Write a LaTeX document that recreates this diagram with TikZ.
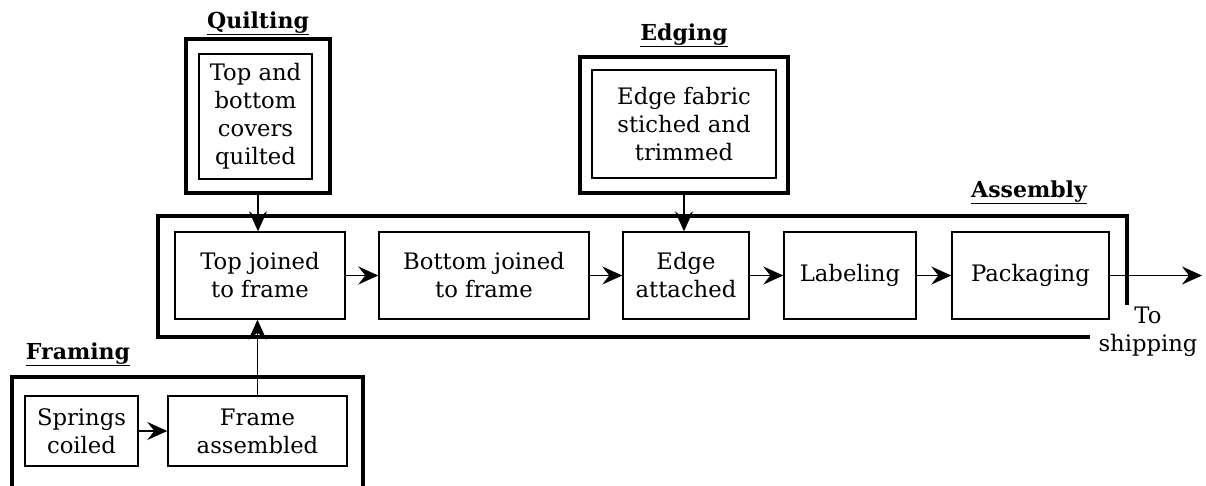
\documentclass[tikz,border=0pt]{standalone}
\usepackage{fontspec}
\setmainfont{DejaVu Serif}
\usetikzlibrary{arrows.meta}
\begin{document}
\begin{tikzpicture}[x=1pt,y=-1pt,
  every node/.style={font=\fontsize{22.7}{28}\selectfont, inner sep=0pt, align=center},
  stepbox/.style={draw, line width=1.4pt, minimum height=87pt},
  thinbox/.style={draw, line width=1.4pt},
  outerbox/.style={draw, line width=4pt},
  group/.style={line width=4pt},
  title/.style={anchor=base, font=\fontsize{22}{28}\selectfont\bfseries},
  arr/.style={line width=1.5pt, -{Stealth[length=20pt,width=18pt,inset=7pt]}}
]
\useasboundingbox (0,0) rectangle (1206,485);
% Quilting
\node[title] (qlab) at (258,28) {\underline{Quilting}};
\node[outerbox, minimum width=144pt, minimum height=154pt] (qo) at (258,116) {};
\node[thinbox, minimum width=113pt, minimum height=125pt] (qi) at (255.5,116.5) {Top and\\bottom\\covers\\quilted};
% Edging
\node[title] (elab) at (684,40) {\underline{Edging}};
\node[outerbox, minimum width=208pt, minimum height=136pt] (eo) at (684,125) {};
\node[thinbox, minimum width=184pt, minimum height=108pt] (ei) at (684,124) {Edge fabric\\stiched and\\trimmed};
% Assembly
\node[title] (alab) at (1029,197) {\underline{Assembly}};
\draw[group] (1090,337) -- (158,337) -- (158,216) -- (1127,216) -- (1127,305);
\node[stepbox, minimum width=170pt] (tj) at (260,275.5) {Top joined\\to frame};
\node[stepbox, minimum width=210pt] (bj) at (484,275.5) {Bottom joined\\to frame};
\node[stepbox, minimum width=126pt] (ea) at (686,275.5) {Edge\\attached};
\node[stepbox, minimum width=132pt] (lb) at (850,275.5) {Labeling};
\node[stepbox, minimum width=157pt] (pk) at (1030.5,275.5) {Packaging};
\coordinate (out) at (1202,275.5);
\node (ship) at (1148,332) {To\\shipping};
% Framing
\node[title] (flab) at (78,359) {\underline{Framing}};
\draw[group] (12,490) -- (12,377) -- (363,377) -- (363,490);
\node[thinbox, minimum width=113pt, minimum height=70pt] (sc) at (81.5,431) {Springs\\coiled};
\node[thinbox, minimum width=179pt, minimum height=70pt] (fa) at (257.5,431) {Frame\\assembled};
% connectors
\draw[arr] (qo.south) -- (qo.south |- tj.north);
\draw[arr] (eo.south) -- (eo.south |- ea.north);
\draw[arr] (fa.north) -- (fa.north |- tj.south);
\draw[arr] (tj) -- (bj);
\draw[arr] (bj) -- (ea);
\draw[arr] (ea) -- (lb);
\draw[arr] (lb) -- (pk);
\draw[arr] (pk) -- (out);
\draw[arr] (sc) -- (fa);
\end{tikzpicture}
\end{document}
